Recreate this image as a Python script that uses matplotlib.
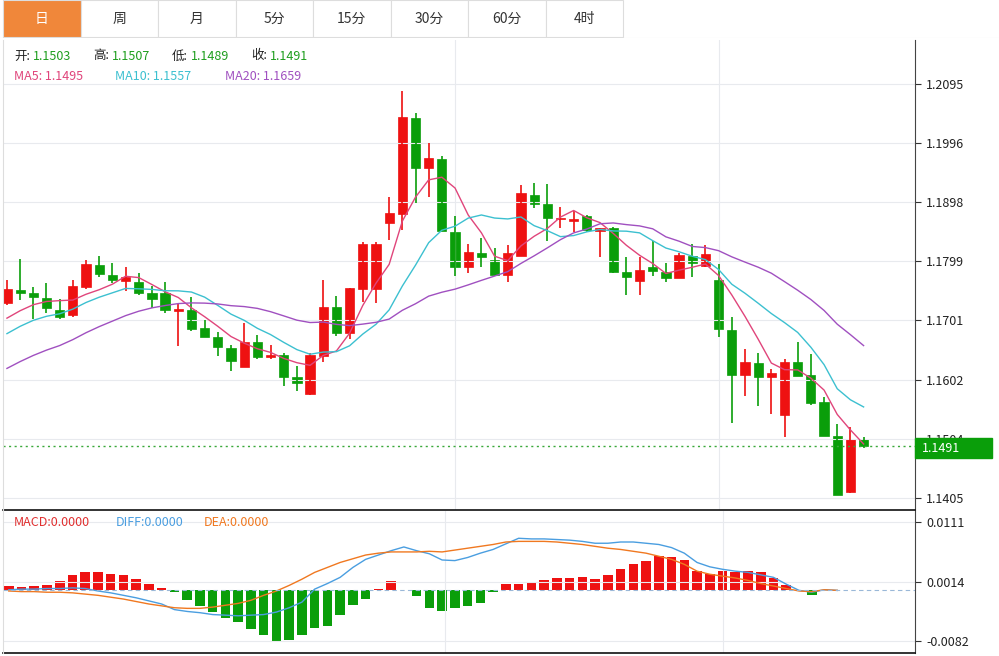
import matplotlib
matplotlib.use("Agg")
import matplotlib.pyplot as plt
from matplotlib.patches import Rectangle
import numpy as np
import pandas as pd

plt.rcParams['font.family'] = ['Noto Sans CJK SC', 'DejaVu Sans']

# daily candles (open, high, low, close)
opens = [1.1730, 1.1752, 1.1747, 1.1738, 1.1718, 1.1710, 1.1757, 1.1793, 1.1777, 1.1767,
         1.1765, 1.1747, 1.1747, 1.1717, 1.1718, 1.1688, 1.1673, 1.1655, 1.1623, 1.1665,
         1.1640, 1.1643, 1.1607, 1.1578, 1.1642, 1.1723, 1.1680, 1.1753, 1.1753, 1.1863,
         1.1878, 1.2038, 1.1955, 1.1970, 1.1848, 1.1790, 1.1813, 1.1802, 1.1777, 1.1808,
         1.1910, 1.1895, 1.1870, 1.1867, 1.1875, 1.1850, 1.1855, 1.1782, 1.1767, 1.1790,
         1.1782, 1.1772, 1.1808, 1.1792, 1.1768, 1.1685, 1.1610, 1.1630, 1.1607, 1.1543,
         1.1632, 1.1610, 1.1565, 1.1508, 1.1415, 1.1503]
highs = [1.1768, 1.1803, 1.1757, 1.1763, 1.1737, 1.1768, 1.1802, 1.1808, 1.1797, 1.1790,
         1.1780, 1.1758, 1.1765, 1.1728, 1.1740, 1.1702, 1.1682, 1.1660, 1.1697, 1.1677,
         1.1660, 1.1647, 1.1625, 1.1647, 1.1768, 1.1742, 1.1755, 1.1832, 1.1832, 1.1907,
         1.2083, 1.2047, 1.1997, 1.1975, 1.1875, 1.1828, 1.1838, 1.1822, 1.1827, 1.1927,
         1.1930, 1.1928, 1.1890, 1.1883, 1.1877, 1.1855, 1.1857, 1.1807, 1.1807, 1.1833,
         1.1797, 1.1813, 1.1828, 1.1827, 1.1795, 1.1707, 1.1653, 1.1647, 1.1620, 1.1637,
         1.1665, 1.1645, 1.1573, 1.1528, 1.1523, 1.1507]
lows = [1.1727, 1.1735, 1.1703, 1.1713, 1.1703, 1.1707, 1.1753, 1.1773, 1.1763, 1.1750,
        1.1743, 1.1722, 1.1713, 1.1658, 1.1683, 1.1673, 1.1642, 1.1617, 1.1623, 1.1637,
        1.1637, 1.1592, 1.1583, 1.1577, 1.1632, 1.1675, 1.1670, 1.1732, 1.1730, 1.1835,
        1.1852, 1.1897, 1.1907, 1.1850, 1.1775, 1.1780, 1.1790, 1.1775, 1.1765, 1.1808,
        1.1888, 1.1833, 1.1855, 1.1848, 1.1848, 1.1807, 1.1780, 1.1743, 1.1743, 1.1775,
        1.1765, 1.1772, 1.1773, 1.1790, 1.1673, 1.1530, 1.1575, 1.1558, 1.1545, 1.1507,
        1.1608, 1.1560, 1.1508, 1.1410, 1.1413, 1.1489]
closes = [1.1753, 1.1747, 1.1740, 1.1722, 1.1707, 1.1758, 1.1795, 1.1778, 1.1768, 1.1773,
          1.1747, 1.1737, 1.1718, 1.1720, 1.1687, 1.1673, 1.1657, 1.1633, 1.1665, 1.1640,
          1.1643, 1.1607, 1.1597, 1.1643, 1.1723, 1.1680, 1.1755, 1.1828, 1.1828, 1.1880,
          1.2040, 1.1955, 1.1972, 1.1850, 1.1790, 1.1815, 1.1807, 1.1777, 1.1813, 1.1913,
          1.1895, 1.1872, 1.1872, 1.1868, 1.1852, 1.1855, 1.1782, 1.1773, 1.1785, 1.1783,
          1.1772, 1.1810, 1.1797, 1.1812, 1.1687, 1.1610, 1.1632, 1.1607, 1.1613, 1.1632,
          1.1608, 1.1563, 1.1508, 1.1410, 1.1503, 1.1491]
# closes before the visible window (estimated so the averages start where shown)
prior_closes = [1.1520, 1.1535, 1.1545, 1.1555, 1.1560, 1.1565, 1.1575, 1.1585, 1.1590, 1.1600,
                1.1625, 1.1640, 1.1655, 1.1665, 1.1680, 1.1685, 1.1690, 1.1695, 1.1700]

price_ticks = [1.2095, 1.1996, 1.1898, 1.1799, 1.1701, 1.1602, 1.1504, 1.1405]

macd_hist = [0.0007, 0.0006, 0.0007, 0.0009, 0.0015, 0.0025, 0.0030, 0.0029, 0.0027, 0.0024,
             0.0018, 0.0011, 0.0004, -0.0002, -0.0015, -0.0025, -0.0035, -0.0045, -0.0051, -0.0063,
             -0.0072, -0.0081, -0.0080, -0.0072, -0.0060, -0.0058, -0.0039, -0.0024, -0.0014, 0.0003,
             0.0015, 0.0000, -0.0009, -0.0028, -0.0034, -0.0029, -0.0025, -0.0020, -0.0002, 0.0011,
             0.0011, 0.0013, 0.0017, 0.0020, 0.0020, 0.0021, 0.0018, 0.0025, 0.0034, 0.0042,
             0.0048, 0.0056, 0.0054, 0.0049, 0.0031, 0.0027, 0.0031, 0.0030, 0.0031, 0.0030,
             0.0020, 0.0008, 0.0000, -0.0008, 0.0000, 0.0000]
diff = [0.0001, 0.0002, 0.0002, 0.0003, 0.0003, 0.0004, 0.0003, -0.0001, -0.0004, -0.0008,
        -0.0012, -0.0017, -0.0022, -0.0031, -0.0034, -0.0036, -0.0039, -0.0040, -0.0041, -0.0040,
        -0.0039, -0.0035, -0.0028, -0.0019, 0.0002, 0.0011, 0.0021, 0.0037, 0.0050, 0.0057,
        0.0064, 0.0070, 0.0064, 0.0059, 0.0049, 0.0048, 0.0053, 0.0060, 0.0066, 0.0075,
        0.0084, 0.0083, 0.0083, 0.0082, 0.0081, 0.0079, 0.0076, 0.0076, 0.0078, 0.0078,
        0.0076, 0.0074, 0.0069, 0.0060, 0.0045, 0.0038, 0.0034, 0.0031, 0.0029, 0.0025,
        0.0021, 0.0010, 0.0000, -0.0003, 0.0001, 0.0000]
dea = [-0.0001, -0.0002, -0.0002, -0.0003, -0.0003, -0.0004, -0.0006, -0.0008, -0.0011, -0.0014,
       -0.0018, -0.0022, -0.0025, -0.0028, -0.0029, -0.0029, -0.0027, -0.0024, -0.0021, -0.0016,
       -0.0008, -0.0001, 0.0008, 0.0018, 0.0029, 0.0037, 0.0045, 0.0051, 0.0057, 0.0060,
       0.0062, 0.0062, 0.0062, 0.0063, 0.0062, 0.0065, 0.0068, 0.0071, 0.0074, 0.0078,
       0.0079, 0.0079, 0.0079, 0.0078, 0.0076, 0.0074, 0.0071, 0.0068, 0.0066, 0.0063,
       0.0060, 0.0055, 0.0050, 0.0042, 0.0031, 0.0026, 0.0023, 0.0020, 0.0016, 0.0011,
       0.0007, 0.0003, -0.0001, -0.0002, 0.0001, 0.0000]
macd_ticks = [0.0111, 0.0014, -0.0082]

tabs = ['日', '周', '月', '5分', '15分', '30分', '60分', '4时']

RED = '#ee1111'
GREEN = '#0a9e0a'
W, H = 999, 656

fig = plt.figure(figsize=(W / 100, H / 100), dpi=100)

def box(x0, y0, x1, y1):
    # pixel box (top-left origin) -> figure fraction rect
    return [x0 / W, 1 - y1 / H, (x1 - x0) / W, (y1 - y0) / H]

# tab bar
tab_ax = fig.add_axes(box(0, 0, W, 38))
tab_ax.set_xlim(0, W)
tab_ax.set_ylim(38, 0)
tab_ax.axis('off')
tab_w = 77.5
for i, t in enumerate(tabs):
    x0 = i * tab_w + 3
    fc = '#f0873a' if i == 0 else 'white'
    tab_ax.add_patch(Rectangle((x0, 0), tab_w, 37, fc=fc, ec='#dddddd', lw=0.8))
    tab_ax.text(x0 + tab_w / 2, 19, t, ha='center', va='center', fontsize=10,
                color='white' if i == 0 else '#333333')
tab_ax.plot([0, W], [37.5, 37.5], color='#dddddd', lw=0.8)

# main price pane
ax = fig.add_axes(box(3, 40, 915, 510))
n = len(closes)
x = np.arange(n)
for i in range(n):
    up = closes[i] >= opens[i]
    c = RED if up else GREEN
    ax.vlines(x[i], lows[i], highs[i], color=c, lw=1.2)
    lo, hi = min(opens[i], closes[i]), max(opens[i], closes[i])
    ax.add_patch(Rectangle((x[i] - 0.35, lo), 0.7, max(hi - lo, 0.0002), fc=c, ec=c, lw=0.5))

allc = pd.Series(prior_closes + closes)
k = len(prior_closes)
ma5 = allc.rolling(5).mean().values[k:]
ma10 = allc.rolling(10).mean().values[k:]
ma20 = allc.rolling(20).mean().values[k:]
ax.plot(x, ma5, color='#e0457b', lw=1)
ax.plot(x, ma10, color='#3cc0d0', lw=1)
ax.plot(x, ma20, color='#a050c0', lw=1)

ax.axhline(closes[-1], color='#3aa83a', lw=1, ls=(0, (1.5, 2.5)))
ax.set_xlim(-0.3, 68.9)
ax.set_ylim(1.1385, 1.2168)
ax.yaxis.tick_right()
ax.set_yticks(price_ticks)
ax.set_yticklabels([f'{v:.4f}' for v in price_ticks], fontsize=9, color='#222222')
ax.tick_params(axis='y', length=4, pad=4, color='#333333')
ax.set_xticks([34, 54])
ax.tick_params(axis='x', length=0, labelbottom=False)
ax.grid(True, color='#e8eaee', lw=0.8)
for s in ['top', 'left']:
    ax.spines[s].set_visible(False)
ax.spines['right'].set_color('#444444')
ax.spines['bottom'].set_color('#111111')
ax.spines['bottom'].set_linewidth(1.2)

# last price marker on the right axis, drawn over the tick label below it
fig.add_artist(Rectangle((915 / W, 1 - 458 / H), 77 / W, 20 / H, transform=fig.transFigure,
                         fc=GREEN, ec=GREEN, zorder=10))
fig.text(922 / W, 1 - 448 / H, f'{closes[-1]:.4f}', fontsize=9, color='white',
         va='center', zorder=11)

# header texts
xx = 14
for lab, val in [('开:', opens[-1]), ('高:', highs[-1]), ('低:', lows[-1]), ('收:', closes[-1])]:
    fig.text(xx / W, 1 - 56 / H, lab, fontsize=9, color='#222222', va='center')
    fig.text((xx + 19) / W, 1 - 56 / H, f'{val:.4f}', fontsize=9, color='#1e9e1e', va='center')
    xx += 79
fig.text(14 / W, 1 - 76 / H, f'MA5: {ma5[-1]:.4f}', fontsize=9, color='#e0457b', va='center')
fig.text(115 / W, 1 - 76 / H, f'MA10: {ma10[-1]:.4f}', fontsize=9, color='#3cc0d0', va='center')
fig.text(225 / W, 1 - 76 / H, f'MA20: {ma20[-1]:.4f}', fontsize=9, color='#a050c0', va='center')

# MACD pane
mx = fig.add_axes(box(3, 511, 915, 653))
cols = [RED if v > 0 else GREEN for v in macd_hist]
mx.bar(x, macd_hist, width=0.75, color=cols)
mx.plot(x, diff, color='#4a9ee0', lw=1)
mx.plot(x, dea, color='#f07820', lw=1)
mx.axhline(0, color='#9ab8d8', lw=0.8, ls=(0, (4, 3)))
mx.set_xlim(-0.45, 71.1)
mx.set_ylim(-0.0101, 0.0128)
mx.yaxis.tick_right()
mx.set_yticks(macd_ticks)
mx.set_yticklabels([f'{v:.4f}' for v in macd_ticks], fontsize=9, color='#222222')
mx.tick_params(axis='y', length=4, pad=4, color='#333333')
mx.set_xticks([34.2, 56])
mx.tick_params(axis='x', length=0, labelbottom=False)
mx.grid(True, color='#e8eaee', lw=0.8)
for s in ['top', 'left']:
    mx.spines[s].set_visible(False)
mx.spines['right'].set_color('#444444')
mx.spines['bottom'].set_color('#111111')
mx.spines['bottom'].set_linewidth(1.2)
fig.text(14 / W, 1 - 522 / H, 'MACD:0.0000', fontsize=9, color='#e03030', va='center')
fig.text(116 / W, 1 - 522 / H, 'DIFF:0.0000', fontsize=9, color='#4a9ee0', va='center')
fig.text(204 / W, 1 - 522 / H, 'DEA:0.0000', fontsize=9, color='#f07820', va='center')

# thin left border
fig.add_artist(plt.Line2D([3 / W, 3 / W], [1 - 40 / H, 1 - 653 / H], color='#dddddd', lw=0.8))

fig.savefig('out.png', dpi=100, facecolor='white')
